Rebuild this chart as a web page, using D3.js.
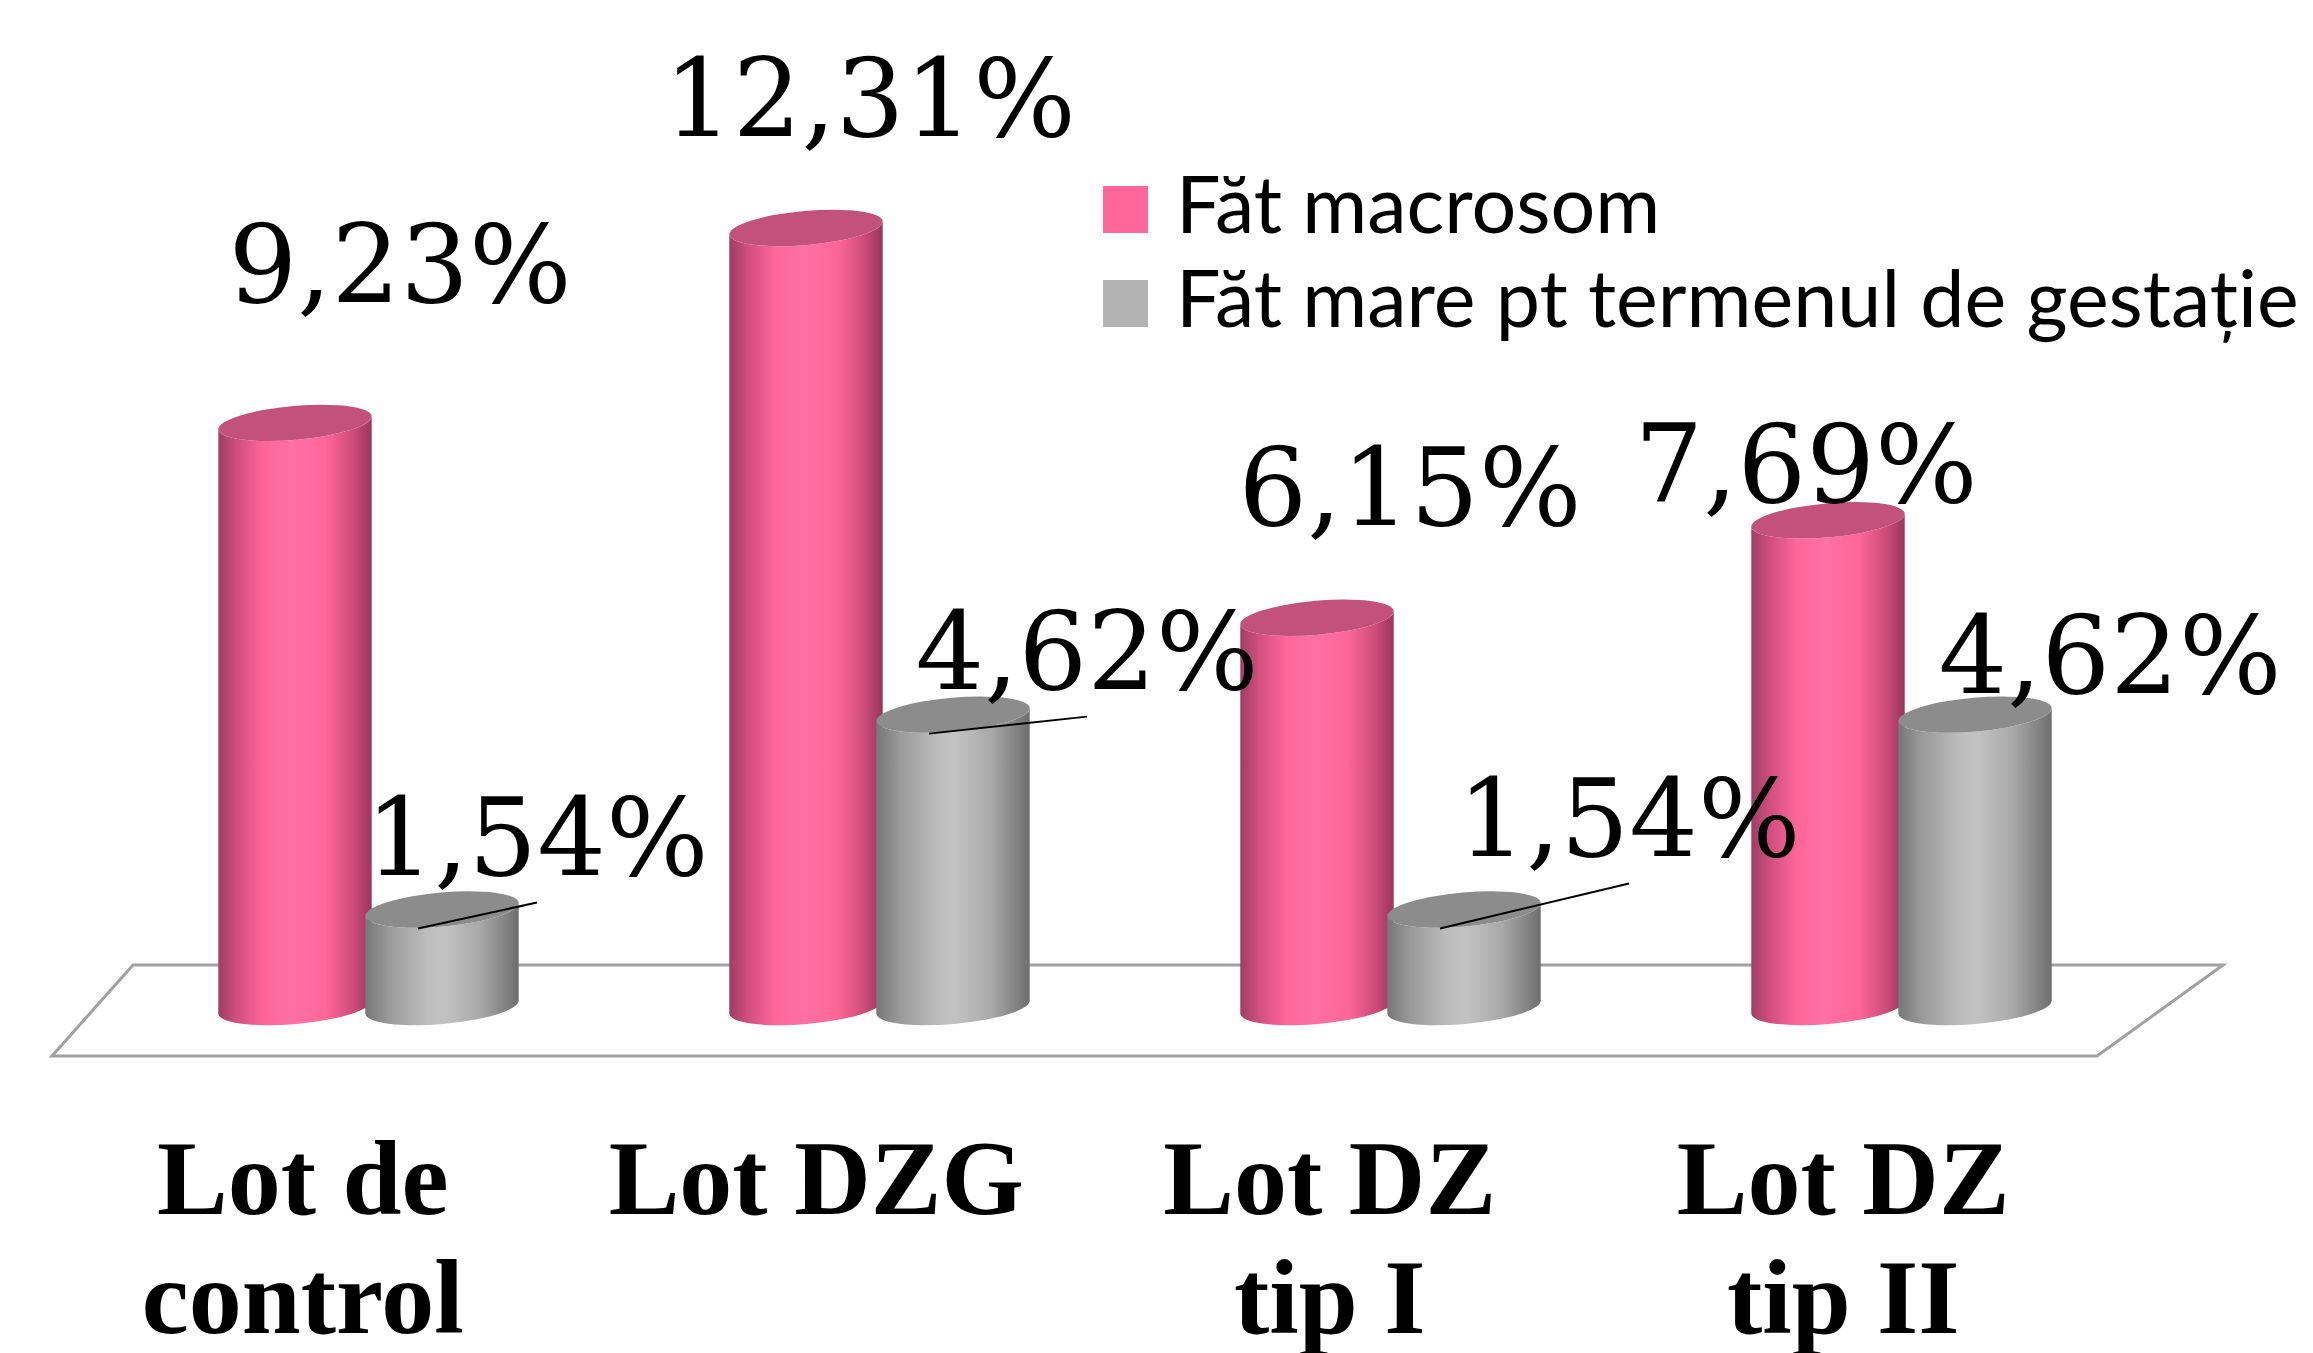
<!DOCTYPE html>
<html>
<head>
<meta charset="utf-8">
<script src="https://cdn.jsdelivr.net/npm/d3@7"></script>
<style>
  html, body { margin: 0; padding: 0; background: #fff; }
  svg { display: block; }
</style>
</head>
<body>
<div id="chart"></div>
<script>
/* Data */
var categories = ['Lot de control', 'Lot DZG', 'Lot DZ tip I', 'Lot DZ tip II'];
var categoryLines = [['Lot de', 'control'], ['Lot DZG'], ['Lot DZ', 'tip I'], ['Lot DZ', 'tip II']];
var seriesNames = ['Făt macrosom', 'Făt mare pt termenul de gestație'];
var macrosom = [9.23, 12.31, 6.15, 7.69];
var mareTermen = [1.54, 4.62, 1.54, 4.62];

/* Layout: label nudges [dx, dy] from the cylinder top, as placed in the original */
var labelNudge = [
  [[105, -121], [64, -92], [93, -93], [-22, -18]],
  [[95, -35], [134, -26], [165, -54], [135, -22]]
];
var hasLeader = [[false, false, false, false], [true, true, true, false]];

var W = 2313, H = 1353;
var R = 77, RY = 17, TILT = -5;
var colors = ['#FF6699', '#B3B3B3'];

var fmt = d3.formatLocale({ decimal: ',', thousands: '.', grouping: [3], currency: ['', ''] }).format('.2f');

var svg = d3.select('#chart').append('svg').attr('width', W).attr('height', H);

/* Gradients */
var defs = svg.append('defs');
var bodyStops = [
  [[0, '#9E3D64'], [0.12, '#CF4F7D'], [0.3, '#FF6699'], [0.48, '#FF70A3'], [0.7, '#FF6699'], [0.88, '#CC4C78'], [1, '#9A355C']],
  [[0, '#777777'], [0.15, '#999999'], [0.4, '#BDBDBD'], [0.52, '#C2C2C2'], [0.75, '#A8A8A8'], [1, '#6E6E6E']]
];
bodyStops.forEach(function (stops, s) {
  var g = defs.append('linearGradient').attr('id', 'body' + s)
    .attr('x1', 0).attr('y1', 0).attr('x2', 1).attr('y2', 0);
  stops.forEach(function (st) {
    g.append('stop').attr('offset', st[0]).attr('stop-color', st[1]);
  });
});
var topColors = ['#C2527A', '#8C8C8C'];

/* Scales */
var x = d3.scaleBand().domain(categories).range([113, 2157]);
var xs = d3.scalePoint().domain(seriesNames).range([-73.5, 73.5]);
var xLabel = d3.scaleBand().domain(categories).range([46, 2100]);
var y = d3.scaleLinear().domain([0, 14]).range([1007, 121]);

/* Floor */
svg.append('path')
  .attr('d', 'M133,965 L2223,965 L2097,1056 L52,1056 Z')
  .attr('fill', 'none')
  .attr('stroke', '#A0A0A0')
  .attr('stroke-width', 3);

/* Cylinders */
var series = [macrosom, mareTermen];
var rad = TILT * Math.PI / 180;
var ex = R * Math.cos(rad), ey = R * Math.sin(rad);

function cylinderBody(cx, yTop, yBot) {
  return 'M' + (cx - ex) + ',' + (yTop - ey) +
    ' L' + (cx - ex) + ',' + (yBot - ey) +
    ' A' + R + ',' + RY + ' ' + TILT + ' 0 0 ' + (cx + ex) + ',' + (yBot + ey) +
    ' L' + (cx + ex) + ',' + (yTop + ey) +
    ' A' + R + ',' + RY + ' ' + TILT + ' 0 1 ' + (cx - ex) + ',' + (yTop - ey) + ' Z';
}

var g = svg.append('g');
categories.forEach(function (cat, i) {
  seriesNames.forEach(function (name, s) {
    var v = series[s][i];
    var cx = x(cat) + x.bandwidth() / 2 + xs(name);
    var yTop = y(v), yBot = y(0);
    g.append('path')
      .attr('d', cylinderBody(cx, yTop, yBot))
      .attr('fill', 'url(#body' + s + ')');
    g.append('ellipse')
      .attr('cx', cx).attr('cy', yTop)
      .attr('rx', R).attr('ry', RY)
      .attr('transform', 'rotate(' + TILT + ',' + cx + ',' + yTop + ')')
      .attr('fill', topColors[s]);
  });
});

/* Value labels + leader lines */
categories.forEach(function (cat, i) {
  seriesNames.forEach(function (name, s) {
    var v = series[s][i];
    var cx = x(cat) + x.bandwidth() / 2 + xs(name);
    var yTop = y(v);
    var lx = cx + labelNudge[s][i][0];
    var ly = yTop + labelNudge[s][i][1];
    if (hasLeader[s][i]) {
      svg.append('line')
        .attr('x1', cx - 24).attr('y1', yTop + 19)
        .attr('x2', lx).attr('y2', ly + 28)
        .attr('stroke', '#000').attr('stroke-width', 2);
    }
    svg.append('text')
      .attr('x', lx).attr('y', ly)
      .attr('text-anchor', 'middle')
      .attr('font-family', '"DejaVu Serif", serif')
      .attr('font-size', 108)
      .attr('fill', '#000')
      .text(fmt(v) + '%');
  });
});

/* Category labels */
categories.forEach(function (cat, i) {
  var cxl = xLabel(cat) + xLabel.bandwidth() / 2;
  var t = svg.append('text')
    .attr('x', cxl)
    .attr('y', 1214)
    .attr('text-anchor', 'middle')
    .attr('font-family', '"Liberation Serif", "Times New Roman", serif')
    .attr('font-weight', 'bold')
    .attr('font-size', 106)
    .attr('fill', '#000');
  categoryLines[i].forEach(function (line, k) {
    t.append('tspan')
      .attr('x', cxl)
      .attr('dy', k === 0 ? 0 : 119)
      .text(line);
  });
});

/* Legend */
var legend = svg.append('g').attr('transform', 'translate(1103,0)');
seriesNames.forEach(function (name, s) {
  var base = 233 + s * 94;
  legend.append('rect')
    .attr('x', 0).attr('y', base - 47)
    .attr('width', 45).attr('height', 47)
    .attr('fill', colors[s]);
  legend.append('text')
    .attr('x', 73).attr('y', base)
    .attr('font-family', 'Lato, "Open Sans", sans-serif')
    .attr('font-size', 79)
    .attr('fill', '#000')
    .text(name);
});
</script>
</body>
</html>
